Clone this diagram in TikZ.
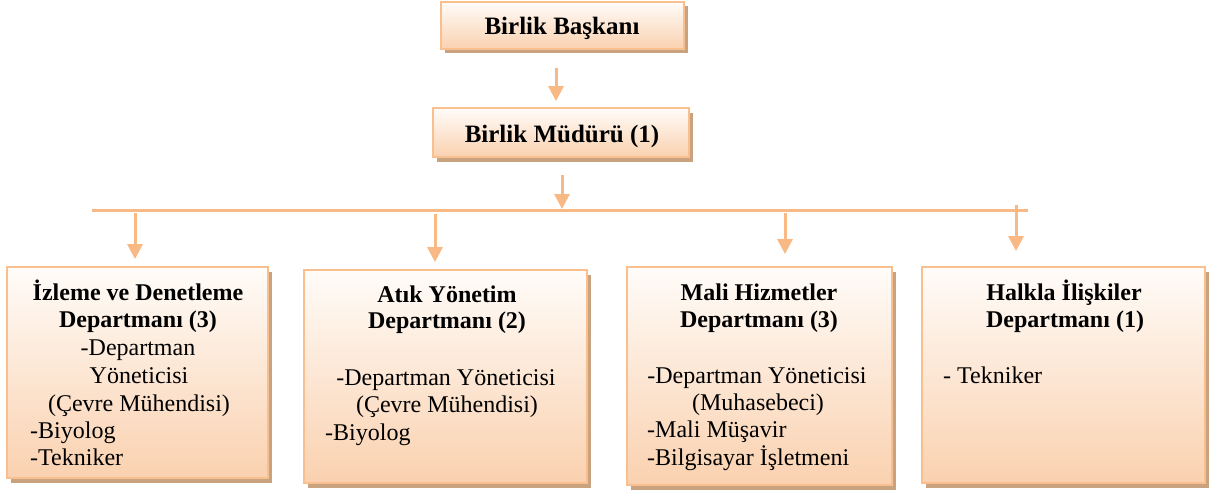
\documentclass[tikz,border=0pt]{standalone}
\usepackage{fontspec}
\setmainfont{Liberation Serif}
\usetikzlibrary{shadows,arrows.meta}
\definecolor{boxborder}{HTML}{F9BF8F}
\definecolor{boxtop}{HTML}{FFFCF9}
\definecolor{boxbot}{HTML}{FAD1AF}
\definecolor{shadowc}{HTML}{C9A27F}
\definecolor{arrowc}{HTML}{F8B985}
\tikzset{
  orgbox/.style={draw=boxborder, line width=1.8pt, rectangle, inner sep=0pt,
    top color=boxtop, bottom color=boxbot,
    drop shadow={shadow xshift=4pt, shadow yshift=-4.5pt, fill=shadowc, opacity=1}},
  arr/.style={draw=arrowc, line width=3pt, -{Triangle[width=15pt,length=15pt]}},
  busline/.style={draw=arrowc, line width=3pt},
  toptxt/.style={anchor=base, inner sep=0pt, font=\fontsize{25}{30}\selectfont\bfseries},
  headtxt/.style={anchor=base, inner sep=0pt, font=\fontsize{24}{28}\selectfont\bfseries},
  ctxt/.style={anchor=base, inner sep=0pt, font=\fontsize{24}{28}\selectfont},
  ltxt/.style={anchor=base west, inner sep=0pt, font=\fontsize{24}{28}\selectfont},
}
\begin{document}
\begin{tikzpicture}[x=1pt,y=-1pt]
\useasboundingbox (0,0) rectangle (1211,495);
% top boxes
\node[orgbox, minimum width=243pt, minimum height=47pt] (pres) at (562.5,25.5) {};
\node[orgbox, minimum width=256pt, minimum height=49pt] (mgr) at (561,132.5) {};
\node[toptxt] (presT) at (562,35) {Birlik Başkanı};
\node[toptxt] (mgrT) at (562,142) {Birlik Müdürü (1)};
% department boxes
\node[orgbox, minimum width=261pt, minimum height=211pt] (d1) at (137.5,372.5) {};
\node[orgbox, minimum width=283pt, minimum height=213pt] (d2) at (445.5,376.5) {};
\node[orgbox, minimum width=265pt, minimum height=218pt] (d3) at (759.5,376) {};
\node[orgbox, minimum width=283pt, minimum height=216pt] (d4) at (1063.5,375) {};
% box 1 texts
\node[headtxt] (t1a) at (138,300) {İzleme ve Denetleme};
\node[headtxt] (t1b) at (138,327) {Departmanı (3)};
\node[ctxt] (t1c) at (138,355) {-Departman};
\node[ctxt] (t1d) at (139,383) {Yöneticisi};
\node[ctxt] (t1e) at (139,411) {(Çevre Mühendisi)};
\node[ltxt] (t1f) at (30,438) {-Biyolog};
\node[ltxt] (t1g) at (30,465) {-Tekniker};
% box 2 texts
\node[headtxt] (t2a) at (447,302) {Atık Yönetim};
\node[headtxt] (t2b) at (447,328) {Departmanı (2)};
\node[ctxt] (t2c) at (446,385) {-Departman Yöneticisi};
\node[ctxt] (t2d) at (447,412) {(Çevre Mühendisi)};
\node[ltxt] (t2e) at (325,440) {-Biyolog};
% box 3 texts
\node[headtxt] (t3a) at (759,300) {Mali Hizmetler};
\node[headtxt] (t3b) at (759,327) {Departmanı (3)};
\node[ctxt] (t3c) at (757,383) {-Departman Yöneticisi};
\node[ctxt] (t3d) at (758,410) {(Muhasebeci)};
\node[ltxt] (t3e) at (647,437) {-Mali Müşavir};
\node[ltxt] (t3f) at (647,465) {-Bilgisayar İşletmeni};
% box 4 texts
\node[headtxt] (t4a) at (1064,300) {Halkla İlişkiler};
\node[headtxt] (t4b) at (1065,327) {Departmanı (1)};
\node[ltxt] (t4c) at (943,383) {- Tekniker};
% connectors
\coordinate (p0) at (556,68);
\draw[arr, shorten >=6pt] (p0) -- (p0 |- mgr.north);
\coordinate (m0) at (562,175);
\coordinate (busL) at (92,210);
\coordinate (busR) at (1028,210);
\draw[busline] (busL) -- (busR);
\draw[arr, shorten >=1pt] (m0) -- (m0 |- busL);
\coordinate (a1) at (135,213);
\coordinate (a2) at (435,214);
\coordinate (a3) at (785,213);
\coordinate (a4) at (1016,205);
\draw[arr, shorten >=7pt] (a1) -- (a1 |- d1.north);
\draw[arr, shorten >=7pt] (a2) -- (a2 |- d2.north);
\draw[arr, shorten >=12pt] (a3) -- (a3 |- d3.north);
\draw[arr, shorten >=15pt] (a4) -- (a4 |- d4.north);
\end{tikzpicture}
\end{document}
